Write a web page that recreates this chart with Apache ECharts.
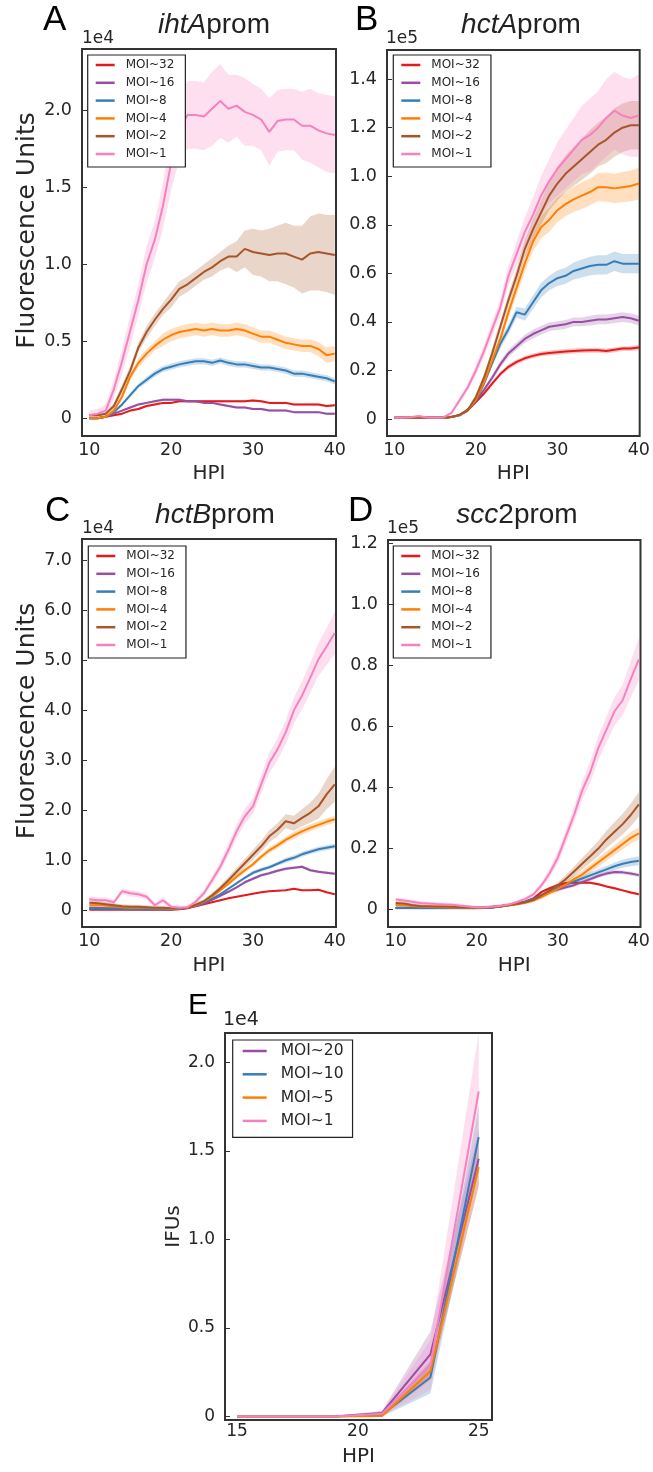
<!DOCTYPE html>
<html><head><meta charset="utf-8">
<script src="https://cdn.jsdelivr.net/npm/echarts@6/dist/echarts.min.js"></script>
<style>html,body{margin:0;padding:0;background:#fff}#chart{width:653px;height:1472px}</style>
</head><body><div id="chart"></div>
<script>
// ---------- DATA ----------
const HOURS = [10,11,12,13,14,15,16,17,18,19,20,21,22,23,24,25,26,27,28,29,30,31,32,33,34,35,36,37,38,39,40];
const MOI_AD = ['MOI~32','MOI~16','MOI~8','MOI~4','MOI~2','MOI~1'];
const MOI_E = ['MOI~20','MOI~10','MOI~5','MOI~1'];
const TICKS_X_AD = [10,20,30,40];
const TICKS_X_E = [15,20,25];
const TICKS_Y_A = [0,0.5,1.0,1.5,2.0];
const TICKS_Y_B = [0,0.2,0.4,0.6,0.8,1.0,1.2,1.4];
const TICKS_Y_C = [0,1,2,3,4,5,6,7];
const TICKS_Y_D = [0,0.2,0.4,0.6,0.8,1.0,1.2];
const TICKS_Y_E = [0,0.5,1.0,1.5,2.0];

// Panel A: ihtAprom (x1e4)
const A_MOI32 = [0.00,0.00,0.01,0.02,0.03,0.05,0.06,0.08,0.09,0.10, 0.10,0.11,0.11,0.11,0.11,0.11,0.11,0.11,0.11,0.11, 0.115,0.11,0.10,0.10,0.10,0.09,0.09,0.09,0.09,0.08, 0.085];
const A_MOI16 = [0.00,0.00,0.01,0.03,0.05,0.07,0.09,0.10,0.11,0.12, 0.12,0.12,0.11,0.11,0.10,0.10,0.09,0.08,0.07,0.07, 0.06,0.06,0.05,0.05,0.05,0.04,0.04,0.04,0.04,0.03, 0.03];
const A_MOI8  = [0.00,0.00,0.01,0.04,0.09,0.15,0.21,0.25,0.29,0.32, 0.335,0.35,0.36,0.37,0.37,0.36,0.375,0.36,0.35,0.35, 0.34,0.33,0.33,0.32,0.31,0.29,0.29,0.28,0.27,0.26, 0.24];
const A_MOI4  = [0.00,0.00,0.01,0.05,0.14,0.27,0.36,0.42,0.47,0.51, 0.54,0.56,0.57,0.58,0.57,0.58,0.57,0.57,0.58,0.57, 0.55,0.53,0.53,0.51,0.49,0.48,0.47,0.47,0.45,0.41, 0.42];
const A_MOI2  = [0.02,0.02,0.03,0.08,0.19,0.31,0.46,0.56,0.64,0.71, 0.77,0.84,0.87,0.91,0.95,0.98,1.02,1.05,1.05,1.10, 1.08,1.07,1.06,1.07,1.07,1.05,1.03,1.07,1.08,1.07, 1.06];
const A_MOI1  = [0.02,0.03,0.05,0.19,0.37,0.57,0.77,1.00,1.16,1.38, 1.66,1.88,1.97,1.97,1.96,2.01,2.06,2.01,2.03,1.99, 1.97,1.94,1.86,1.93,1.94,1.94,1.90,1.90,1.87,1.85, 1.84];
const A_ERR32 = [0.005,0.005,0.005,0.005,0.006,0.006,0.007,0.007,0.008,0.008, 0.008,0.008,0.008,0.008,0.008,0.008,0.008,0.008,0.008,0.008, 0.008,0.008,0.008,0.008,0.008,0.008,0.008,0.008,0.008,0.008, 0.008];
const A_ERR16 = [0.005,0.005,0.005,0.006,0.007,0.008,0.008,0.008,0.008,0.008, 0.008,0.008,0.008,0.008,0.008,0.008,0.008,0.008,0.008,0.008, 0.008,0.008,0.008,0.008,0.008,0.008,0.008,0.008,0.008,0.008, 0.008];
const A_ERR8  = [0.005,0.005,0.005,0.01,0.01,0.015,0.015,0.02,0.02,0.02, 0.02,0.02,0.02,0.02,0.02,0.02,0.02,0.02,0.02,0.02, 0.02,0.02,0.02,0.02,0.02,0.02,0.02,0.02,0.02,0.02, 0.02];
const A_ERR4  = [0.005,0.005,0.01,0.01,0.02,0.02,0.03,0.03,0.03,0.04, 0.04,0.04,0.04,0.04,0.04,0.04,0.04,0.04,0.04,0.04, 0.04,0.04,0.04,0.04,0.04,0.04,0.04,0.04,0.045,0.05, 0.05];
const A_ERR2  = [0.01,0.01,0.01,0.02,0.03,0.03,0.03,0.04,0.04,0.04, 0.05,0.05,0.05,0.05,0.05,0.06,0.06,0.07,0.10,0.12, 0.15,0.15,0.17,0.18,0.20,0.20,0.22,0.24,0.25,0.25, 0.26];
const A_ERR1  = [0.03,0.03,0.04,0.06,0.08,0.10,0.10,0.12,0.12,0.15, 0.18,0.20,0.22,0.22,0.22,0.24,0.24,0.22,0.20,0.22, 0.20,0.20,0.22,0.20,0.20,0.20,0.22,0.24,0.24,0.25, 0.25];

// Panel B: hctAprom (x1e5)
const B_MOI32 = [0.005,0.005,0.005,0.005,0.005,0.005,0.005,0.008,0.015,0.036, 0.07,0.105,0.146,0.185,0.215,0.235,0.25,0.26,0.268,0.272, 0.275,0.278,0.28,0.282,0.283,0.283,0.28,0.285,0.29,0.29, 0.295];
const B_MOI16 = [0.005,0.005,0.005,0.005,0.005,0.005,0.005,0.008,0.016,0.038, 0.075,0.12,0.17,0.225,0.27,0.30,0.33,0.35,0.365,0.38, 0.385,0.39,0.40,0.40,0.405,0.41,0.41,0.415,0.42,0.415, 0.405];
const B_MOI8  = [0.005,0.005,0.005,0.005,0.005,0.005,0.005,0.008,0.016,0.038, 0.077,0.146,0.23,0.31,0.37,0.44,0.43,0.48,0.53,0.56, 0.58,0.59,0.61,0.62,0.63,0.635,0.635,0.65,0.64,0.64, 0.64];
const B_MOI4  = [0.005,0.005,0.005,0.005,0.005,0.005,0.005,0.008,0.016,0.035, 0.08,0.15,0.24,0.33,0.44,0.54,0.64,0.73,0.79,0.82, 0.86,0.885,0.905,0.92,0.935,0.955,0.955,0.95,0.955,0.96, 0.97];
const B_MOI2  = [0.005,0.005,0.005,0.005,0.005,0.005,0.005,0.008,0.017,0.036, 0.09,0.17,0.27,0.38,0.49,0.59,0.70,0.78,0.85,0.92, 0.97,1.01,1.04,1.07,1.10,1.13,1.15,1.18,1.20,1.21, 1.21];
const B_MOI1  = [0.005,0.005,0.007,0.012,0.006,0.005,0.006,0.025,0.077,0.13, 0.20,0.28,0.37,0.46,0.59,0.68,0.77,0.84,0.92,0.98, 1.03,1.07,1.11,1.15,1.17,1.20,1.24,1.27,1.25,1.24, 1.25];
const B_ERR32 = [0.003,0.003,0.003,0.003,0.003,0.003,0.003,0.003,0.003,0.005, 0.006,0.007,0.008,0.009,0.01,0.01,0.01,0.01,0.01,0.01, 0.01,0.01,0.01,0.01,0.01,0.01,0.01,0.01,0.01,0.01, 0.012];
const B_ERR16 = [0.003,0.003,0.003,0.003,0.003,0.003,0.003,0.003,0.004,0.006, 0.008,0.01,0.012,0.014,0.015,0.016,0.017,0.018,0.018,0.018, 0.018,0.018,0.018,0.018,0.02,0.02,0.02,0.02,0.02,0.02, 0.02];
const B_ERR8  = [0.003,0.003,0.003,0.003,0.003,0.003,0.003,0.003,0.004,0.006, 0.01,0.012,0.015,0.02,0.02,0.022,0.025,0.028,0.03,0.03, 0.032,0.033,0.035,0.037,0.038,0.04,0.04,0.04,0.04,0.04, 0.04];
const B_ERR4  = [0.003,0.003,0.003,0.003,0.003,0.003,0.003,0.003,0.005,0.008, 0.012,0.015,0.018,0.02,0.025,0.03,0.035,0.04,0.045,0.05, 0.05,0.05,0.052,0.055,0.055,0.058,0.06,0.06,0.062,0.064, 0.065];
const B_ERR2  = [0.003,0.003,0.003,0.003,0.003,0.003,0.003,0.003,0.005,0.008, 0.012,0.015,0.02,0.022,0.025,0.03,0.035,0.045,0.05,0.06, 0.07,0.075,0.08,0.085,0.09,0.09,0.095,0.1,0.1,0.1, 0.1];
const B_ERR1  = [0.004,0.004,0.005,0.006,0.005,0.004,0.005,0.008,0.012,0.015, 0.02,0.025,0.03,0.035,0.04,0.05,0.06,0.07,0.08,0.09, 0.11,0.12,0.13,0.14,0.15,0.15,0.16,0.16,0.16,0.16, 0.17];

// Panel C: hctBprom (x1e4)
const C_MOI32 = [0.01,0.01,0.01,0.01,0.01,0.01,0.01,0.01,0.01,0.01, 0.01,0.02,0.04,0.08,0.12,0.16,0.20,0.24,0.27,0.30, 0.33,0.36,0.38,0.39,0.40,0.43,0.40,0.40,0.41,0.36, 0.32];
const C_MOI16 = [0.05,0.05,0.04,0.04,0.04,0.03,0.03,0.03,0.03,0.02, 0.02,0.03,0.05,0.09,0.14,0.21,0.29,0.37,0.46,0.56, 0.63,0.70,0.74,0.79,0.83,0.85,0.87,0.80,0.77,0.75, 0.73];
const C_MOI8  = [0.03,0.03,0.03,0.03,0.03,0.02,0.02,0.02,0.02,0.02, 0.02,0.03,0.05,0.09,0.15,0.23,0.32,0.43,0.54,0.65, 0.75,0.81,0.86,0.93,1.00,1.05,1.12,1.17,1.22,1.25, 1.28];
const C_MOI4  = [0.10,0.10,0.09,0.08,0.06,0.05,0.05,0.05,0.04,0.04, 0.03,0.04,0.05,0.10,0.17,0.27,0.40,0.53,0.67,0.80, 0.92,1.07,1.20,1.30,1.41,1.50,1.58,1.65,1.71,1.77, 1.82];
const C_MOI2  = [0.15,0.14,0.12,0.10,0.08,0.07,0.07,0.06,0.05,0.05, 0.04,0.04,0.05,0.11,0.18,0.30,0.44,0.60,0.77,0.94, 1.11,1.28,1.48,1.61,1.78,1.74,1.85,1.95,2.08,2.32, 2.52];
const C_MOI1  = [0.22,0.20,0.20,0.16,0.38,0.34,0.32,0.27,0.10,0.20, 0.07,0.05,0.06,0.17,0.34,0.60,0.87,1.21,1.58,1.88, 2.08,2.52,2.95,3.22,3.56,4.00,4.30,4.65,5.02,5.28, 5.55];
const C_ERR32 = [0.01,0.01,0.01,0.01,0.01,0.01,0.01,0.01,0.01,0.01, 0.01,0.01,0.01,0.01,0.01,0.01,0.01,0.01,0.01,0.01, 0.01,0.01,0.01,0.01,0.01,0.01,0.01,0.01,0.01,0.01, 0.01];
const C_ERR16 = [0.02,0.02,0.02,0.02,0.02,0.02,0.02,0.02,0.02,0.02, 0.02,0.02,0.02,0.02,0.02,0.02,0.02,0.02,0.02,0.03, 0.03,0.03,0.03,0.03,0.03,0.03,0.03,0.03,0.03,0.03, 0.03];
const C_ERR8  = [0.02,0.02,0.02,0.02,0.02,0.02,0.02,0.02,0.02,0.02, 0.02,0.02,0.02,0.02,0.02,0.02,0.03,0.03,0.03,0.03, 0.04,0.04,0.04,0.04,0.05,0.05,0.05,0.05,0.05,0.05, 0.05];
const C_ERR4  = [0.02,0.02,0.02,0.02,0.02,0.02,0.02,0.02,0.02,0.02, 0.02,0.02,0.02,0.02,0.03,0.03,0.04,0.04,0.05,0.05, 0.05,0.05,0.06,0.06,0.06,0.07,0.07,0.07,0.07,0.07, 0.07];
const C_ERR2  = [0.04,0.04,0.04,0.04,0.04,0.04,0.04,0.04,0.04,0.04, 0.03,0.03,0.03,0.04,0.04,0.05,0.06,0.07,0.08,0.09, 0.10,0.11,0.12,0.13,0.14,0.15,0.17,0.20,0.25,0.30, 0.35];
const C_ERR1  = [0.06,0.06,0.06,0.05,0.06,0.06,0.06,0.06,0.05,0.06, 0.04,0.04,0.04,0.05,0.06,0.08,0.10,0.12,0.14,0.15, 0.16,0.18,0.20,0.22,0.24,0.26,0.28,0.30,0.33,0.37, 0.42];

// Panel D: scc2prom (x1e5)
const D_MOI32 = [0.005,0.005,0.005,0.005,0.005,0.005,0.005,0.005,0.005,0.005, 0.005,0.006,0.008,0.011,0.015,0.02,0.026,0.037,0.058,0.07, 0.08,0.087,0.088,0.088,0.088,0.083,0.076,0.07,0.063,0.056, 0.05];
const D_MOI16 = [0.005,0.005,0.005,0.005,0.005,0.005,0.005,0.005,0.005,0.005, 0.005,0.006,0.008,0.011,0.015,0.02,0.026,0.035,0.047,0.058, 0.066,0.073,0.08,0.09,0.1,0.11,0.118,0.123,0.122,0.118, 0.113];
const D_MOI8  = [0.006,0.006,0.006,0.005,0.005,0.005,0.005,0.005,0.005,0.005, 0.005,0.006,0.008,0.011,0.015,0.02,0.026,0.035,0.046,0.058, 0.072,0.082,0.092,0.102,0.112,0.122,0.132,0.142,0.15,0.156, 0.16];
const D_MOI4  = [0.015,0.014,0.012,0.01,0.009,0.008,0.008,0.007,0.007,0.006, 0.006,0.007,0.009,0.011,0.014,0.018,0.023,0.03,0.042,0.055, 0.068,0.083,0.1,0.115,0.135,0.155,0.175,0.195,0.215,0.235, 0.25];
const D_MOI2  = [0.022,0.02,0.015,0.012,0.011,0.01,0.01,0.009,0.008,0.007, 0.006,0.007,0.009,0.012,0.015,0.019,0.024,0.032,0.047,0.063, 0.08,0.1,0.125,0.15,0.175,0.2,0.23,0.255,0.28,0.31, 0.345];
const D_MOI1  = [0.033,0.03,0.026,0.022,0.02,0.018,0.017,0.016,0.013,0.01, 0.007,0.008,0.01,0.013,0.017,0.025,0.035,0.05,0.08,0.12, 0.17,0.24,0.31,0.39,0.45,0.53,0.59,0.65,0.686,0.755, 0.82];
const D_ERR32 = [0.004,0.004,0.004,0.004,0.004,0.004,0.004,0.004,0.004,0.004, 0.004,0.004,0.004,0.004,0.004,0.004,0.004,0.004,0.004,0.004, 0.004,0.004,0.004,0.004,0.004,0.004,0.004,0.004,0.004,0.004, 0.004];
const D_ERR16 = [0.004,0.004,0.004,0.004,0.004,0.004,0.004,0.004,0.004,0.004, 0.004,0.004,0.004,0.004,0.004,0.004,0.005,0.005,0.005,0.005, 0.006,0.006,0.006,0.006,0.006,0.006,0.006,0.006,0.006,0.006, 0.006];
const D_ERR8  = [0.004,0.004,0.004,0.004,0.004,0.004,0.004,0.004,0.004,0.004, 0.004,0.004,0.004,0.004,0.004,0.004,0.005,0.005,0.006,0.006, 0.007,0.008,0.008,0.009,0.01,0.01,0.011,0.012,0.013,0.014, 0.015];
const D_ERR4  = [0.004,0.004,0.004,0.004,0.004,0.004,0.004,0.004,0.004,0.004, 0.004,0.004,0.004,0.004,0.004,0.005,0.005,0.006,0.007,0.008, 0.01,0.011,0.012,0.013,0.014,0.015,0.016,0.017,0.018,0.019, 0.02];
const D_ERR2  = [0.006,0.006,0.006,0.006,0.006,0.006,0.006,0.006,0.006,0.006, 0.005,0.005,0.005,0.005,0.005,0.006,0.006,0.007,0.008,0.009, 0.01,0.013,0.016,0.019,0.022,0.025,0.028,0.031,0.034,0.037, 0.04];
const D_ERR1  = [0.006,0.006,0.006,0.006,0.006,0.006,0.006,0.006,0.006,0.006, 0.005,0.005,0.005,0.005,0.005,0.006,0.007,0.008,0.01,0.015, 0.02,0.023,0.026,0.03,0.035,0.04,0.043,0.047,0.05,0.06, 0.07];

// Panel E: IFUs (x1e4)
const E_HOURS = [15,17,19,21,23,25];
const E_MOI20 = [0,0,0,0.02,0.35,1.455];
const E_MOI10 = [0,0,0,0.01,0.22,1.577];
const E_MOI5  = [0,0,0,0.003,0.255,1.408];
const E_MOI1  = [0,0,0,0.015,0.29,1.835];
const E_ERR20 = [0.002,0.002,0.002,0.012,0.13,0.16];
const E_ERR10 = [0.002,0.002,0.002,0.01,0.09,0.17];
const E_ERR5  = [0.002,0.002,0.002,0.006,0.05,0.10];
const E_ERR1  = [0.002,0.002,0.002,0.012,0.14,0.33];

// ---------- STYLE ----------
const DJ = '"DejaVu Sans", sans-serif';
const LS = '"Liberation Sans", Arial, sans-serif';
const TXT = '#262626';
const C_AD = ['#e41a1c','#984ea3','#377eb8','#ff7f00','#a65628','#f781bf'];
const C_E = ['#984ea3','#377eb8','#ff7f00','#f781bf'];

const GRIDS = [
  {left:82, top:49, width:254, height:387},
  {left:387, top:50, width:255, height:386},
  {left:82, top:539, width:254, height:388},
  {left:388, top:540, width:254, height:387},
  {left:225, top:1033, width:267, height:387}
];
const fmtY = v => (v === 0 ? '0' : v.toFixed(1));

function xAxis(gi, min, max, ticks, fs, margin, nameGap) {
  return {
    type:'value', gridIndex:gi, min:min, max:max,
    axisLine:{show:false}, splitLine:{show:false},
    axisTick:{show:false},
    axisLabel:{customValues:ticks, fontSize:fs, fontFamily:DJ, color:TXT, margin:margin, formatter: v => String(v)},
    name:'HPI', nameLocation:'middle', nameGap:nameGap,
    nameTextStyle:{fontSize:20, fontFamily:DJ, color:TXT}
  };
}
function yAxis(gi, min, max, ticks, fs, name, nameGap, nameFs, shift) {
  const ax = {
    type:'value', gridIndex:gi, min:min, max:max,
    axisLine:{show:false}, splitLine:{show:false},
    axisTick:{show:true, inside:true, length:5, customValues:ticks, lineStyle:{color:'#333', width:1}},
    axisLabel:{customValues:ticks, fontSize:fs, fontFamily:DJ, color:TXT, margin:10, formatter: fmtY}
  };
  if (name) {
    ax.name = name; ax.nameLocation = 'middle'; ax.nameGap = nameGap;
    ax.nameTextStyle = {fontSize:nameFs, fontFamily:DJ, color:TXT, padding:[0,0,0,shift]};
  }
  return ax;
}

const series = [];
function bandSeries(gi, xs, ys, err, color) {
  return {
    type:'custom', xAxisIndex:gi, yAxisIndex:gi, silent:true,
    data:[[xs[0], ys[0]]],
    renderItem: function (params, api) {
      const pts = [];
      for (let i = 0; i < xs.length; i++) pts.push(api.coord([xs[i], ys[i] + err[i]]));
      for (let i = xs.length - 1; i >= 0; i--) pts.push(api.coord([xs[i], ys[i] - err[i]]));
      return {type:'polygon', shape:{points:pts}, style:{fill:color, opacity:0.25}};
    }
  };
}
function addPanel(gi, xs, ysList, errList, colors, names) {
  ysList.forEach((ys, k) => {
    series.push(bandSeries(gi, xs, ys, errList[k], colors[k]));
    series.push({
      type:'line', name:names[k], xAxisIndex:gi, yAxisIndex:gi,
      data: xs.map((x, i) => [x, ys[i]]),
      showSymbol:false, symbol:'none',
      lineStyle:{width:2, color:colors[k]}, itemStyle:{color:colors[k]}
    });
  });
}
addPanel(0, HOURS, [A_MOI32,A_MOI16,A_MOI8,A_MOI4,A_MOI2,A_MOI1], [A_ERR32,A_ERR16,A_ERR8,A_ERR4,A_ERR2,A_ERR1], C_AD, MOI_AD);
addPanel(1, HOURS, [B_MOI32,B_MOI16,B_MOI8,B_MOI4,B_MOI2,B_MOI1], [B_ERR32,B_ERR16,B_ERR8,B_ERR4,B_ERR2,B_ERR1], C_AD, MOI_AD);
addPanel(2, HOURS, [C_MOI32,C_MOI16,C_MOI8,C_MOI4,C_MOI2,C_MOI1], [C_ERR32,C_ERR16,C_ERR8,C_ERR4,C_ERR2,C_ERR1], C_AD, MOI_AD);
addPanel(3, HOURS, [D_MOI32,D_MOI16,D_MOI8,D_MOI4,D_MOI2,D_MOI1], [D_ERR32,D_ERR16,D_ERR8,D_ERR4,D_ERR2,D_ERR1], C_AD, MOI_AD);
addPanel(4, E_HOURS, [E_MOI20,E_MOI10,E_MOI5,E_MOI1], [E_ERR20,E_ERR10,E_ERR5,E_ERR1], C_E, MOI_E);

function legendAD(left, top) {
  return {
    data: MOI_AD, left:left, top:top, orient:'vertical',
    icon:'rect', itemWidth:19, itemHeight:2.5, itemGap:1.8,
    padding:[2,11,5,8], borderColor:'#222', borderWidth:1.2, backgroundColor:'#fff',
    selectedMode:false,
    textStyle:{fontSize:12, fontFamily:DJ, color:TXT, lineHeight:16, padding:[0,0,0,6]}
  };
}
const legends = [
  legendAD(87.7, 55), legendAD(393.3, 55), legendAD(88.3, 546), legendAD(393.3, 546),
  {
    data: MOI_E, left:232.7, top:1040, orient:'vertical',
    icon:'rect', itemWidth:24, itemHeight:2.5, itemGap:4.3,
    padding:[1.5,9,7,10], borderColor:'#222', borderWidth:1.2, backgroundColor:'#fff',
    selectedMode:false,
    textStyle:{fontSize:15.5, fontFamily:DJ, color:TXT, lineHeight:19, padding:[0,0,0,9]}
  }
];

function txt(x, y, text, size, family, color, align, rich) {
  const st = {text:text, x:0, y:0, fontSize:size, fontFamily:family, fill:color, align:align || 'left', verticalAlign:'middle'};
  if (rich) st.rich = rich;
  return {type:'text', x:x, y:y, style:st, z:100};
}
const ital = s => ({i:{fontStyle:'italic', fontSize:s, fontFamily:LS, fill:'#222'}});
const graphics = [
  txt(43, 20.5, 'A', 35, LS, '#000'),
  txt(355, 20.5, 'B', 35, LS, '#000'),
  txt(45, 511.5, 'C', 35, LS, '#000'),
  txt(348, 511.5, 'D', 35, LS, '#000'),
  txt(188, 1006, 'E', 30, LS, '#000'),
  txt(214, 25, '{i|ihtA}prom', 28, LS, '#222', 'center', ital(28)),
  txt(521, 25, '{i|hctA}prom', 28, LS, '#222', 'center', ital(28)),
  txt(215, 515, '{i|hctB}prom', 28, LS, '#222', 'center', ital(28)),
  txt(517, 515, '{i|scc}2prom', 28, LS, '#222', 'center', ital(28)),
  txt(82, 39, '1e4', 17, DJ, TXT),
  txt(386, 38.5, '1e5', 17, DJ, TXT),
  txt(82, 529, '1e4', 17, DJ, TXT),
  txt(387, 529, '1e5', 17, DJ, TXT),
  txt(223, 1020, '1e4', 19, DJ, TXT)
];

const option = {
  animation:false,
  backgroundColor:'#fff',
  grid: GRIDS.map(g => Object.assign({show:true, borderColor:'#333', borderWidth:2, backgroundColor:'transparent', containLabel:false}, g)),
  xAxis: [
    xAxis(0, 9.1, 40.15, TICKS_X_AD, 17.5, 5, 28),
    xAxis(1, 9.1, 40.1, TICKS_X_AD, 17.5, 5, 28),
    xAxis(2, 9.1, 40.15, TICKS_X_AD, 17.5, 5, 29),
    xAxis(3, 9.05, 40.2, TICKS_X_AD, 17.5, 5, 29),
    xAxis(4, 14.5, 25.55, TICKS_X_E, 17, 3, 27)
  ],
  yAxis: [
    yAxis(0, -0.115, 2.398, TICKS_Y_A, 17.5, 'Fluorescence Units', 41, 25, 24),
    yAxis(1, -0.07, 1.52, TICKS_Y_B, 17.5),
    yAxis(2, -0.335, 7.43, TICKS_Y_C, 17.5, 'Fluorescence Units', 41, 25, 24),
    yAxis(3, -0.057, 1.211, TICKS_Y_D, 17.5),
    yAxis(4, -0.02, 2.165, TICKS_Y_E, 17, 'IFUs', 38, 20, 0)
  ],
  legend: legends,
  series: series,
  graphic: graphics
};
const chart = echarts.init(document.getElementById('chart'), null, {renderer:'canvas', width:653, height:1472});
chart.setOption(option);
</script></body></html>
